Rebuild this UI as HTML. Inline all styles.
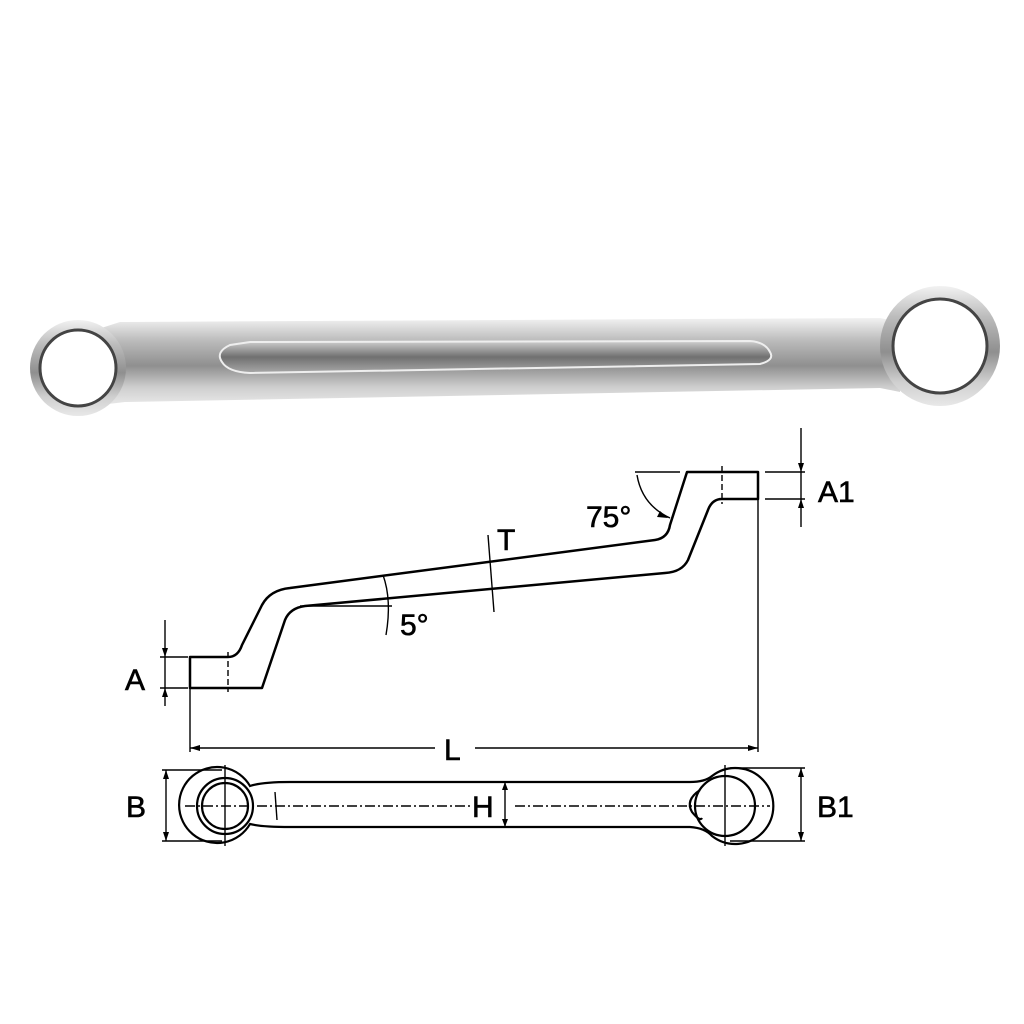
<!DOCTYPE html>
<html><head><meta charset="utf-8"><style>body{margin:0;background:#fff}svg{display:block}</style></head><body>
<svg width="1024" height="1024" viewBox="0 0 1024 1024" xmlns="http://www.w3.org/2000/svg">
<defs>
<linearGradient id="g" x1="0" y1="0" x2="0" y2="1">
<stop offset="0" stop-color="#f2f2f2"/><stop offset="0.25" stop-color="#bdbdbd"/><stop offset="0.55" stop-color="#8f8f8f"/><stop offset="0.8" stop-color="#cfcfcf"/><stop offset="1" stop-color="#e8e8e8"/></linearGradient>
<linearGradient id="p" x1="0" y1="0" x2="0" y2="1">
<stop offset="0" stop-color="#d0d0d0"/><stop offset="0.5" stop-color="#707070"/><stop offset="1" stop-color="#a8a8a8"/></linearGradient>
</defs>
<path d="M95,330 L120,322 L880,318 L900,322 L900,392 L880,388 L125,402 L100,405 Z" fill="url(#g)"/>
<circle cx="78" cy="368" r="48" fill="url(#g)"/>
<circle cx="940" cy="346" r="60" fill="url(#g)"/>
<circle cx="78" cy="368" r="38" fill="#fff" stroke="#444" stroke-width="3"/>
<circle cx="940" cy="346" r="47" fill="#fff" stroke="#444" stroke-width="3"/>
<path d="M230,345 Q215,352 222,362 Q228,372 250,373 L760,364 Q775,360 770,352 Q765,342 750,341 L250,342 Z" fill="url(#p)" stroke="#eee" stroke-width="2"/>
<g fill="none" stroke="#000" stroke-width="2.5" stroke-linejoin="round">
<path d="M190,688 L190,657 L228,657 Q238,657 242,645 L262,605 Q270,590 290,588 L655,540 Q668,538 670,525 L687,472 L758,472 L758,499 L722,499 Q712,499 708,510 L688,560 Q682,572 665,573 L305,606 Q290,608 285,620 L262,688 Z"/>
</g>
<g fill="none" stroke="#000" stroke-width="1.4">
<line x1="228" y1="652" x2="228" y2="692" stroke-dasharray="6,3"/>
<line x1="722" y1="466" x2="722" y2="504" stroke-dasharray="6,3"/>
<line x1="190" y1="688" x2="190" y2="752"/>
<line x1="758" y1="499" x2="758" y2="752"/>
<line x1="160" y1="657" x2="188" y2="657"/><line x1="160" y1="688" x2="188" y2="688"/>
<line x1="165" y1="620" x2="165" y2="706"/>
<line x1="765" y1="472" x2="805" y2="472"/><line x1="765" y1="499" x2="805" y2="499"/>
<line x1="801" y1="428" x2="801" y2="527"/>
<line x1="635" y1="472" x2="680" y2="472"/>
<path d="M637,475 Q642,505 670,518"/>
<line x1="300" y1="606" x2="392" y2="606"/>
<path d="M383,575 Q392,600 386,635"/>
<line x1="488" y1="535" x2="494" y2="612"/>
<line x1="190" y1="748" x2="435" y2="748"/><line x1="475" y1="748" x2="758" y2="748"/>
</g>
<g fill="#000">
<path d="M165,657 l-3,-9 l6,0z M165,688 l-3,9 l6,0z"/>
<path d="M801,472 l-3,-9 l6,0z M801,499 l-3,9 l6,0z"/>
<path d="M190,748 l10,-3 l0,6z M758,748 l-10,-3 l0,6z"/>
<path d="M668,518 l-8,-7 l-3,6z"/>
</g>
<g fill="none" stroke="#000" stroke-width="2.2">
<path d="M250,786 Q262,782 290,782 L690,782 Q705,782 712,776 A38,38 0 1 1 712,836 Q705,828 690,827 L290,827 Q262,827 250,824 A38,38 0 1 1 250,786 Z"/>
<circle cx="225" cy="806" r="28"/><circle cx="225" cy="806" r="23"/>
<circle cx="725" cy="806" r="30"/>
<path d="M700,790 Q685,800 692,812 Q700,822 702,818"/>
</g>
<g fill="none" stroke="#000" stroke-width="1.4">
<line x1="185" y1="806" x2="470" y2="806" stroke-dasharray="10,3,2,3"/>
<line x1="515" y1="806" x2="770" y2="806" stroke-dasharray="10,3,2,3"/>
<line x1="225" y1="765" x2="225" y2="846"/><line x1="725" y1="765" x2="725" y2="846"/>
<line x1="162" y1="770" x2="222" y2="770"/><line x1="162" y1="841" x2="222" y2="841"/>
<line x1="166" y1="770" x2="166" y2="841"/>
<line x1="730" y1="768" x2="805" y2="768"/><line x1="730" y1="841" x2="805" y2="841"/>
<line x1="801" y1="768" x2="801" y2="841"/>
<line x1="505" y1="782" x2="505" y2="827"/>
<line x1="275" y1="792" x2="277" y2="820"/>
</g>
<g fill="#000">
<path d="M166,770 l-3,9 l6,0z M166,841 l-3,-9 l6,0z M801,768 l-3,9 l6,0z M801,841 l-3,-9 l6,0z M505,782 l-3,8 l6,0z M505,827 l-3,-8 l6,0z"/>
</g>
<g font-family="Liberation Sans, sans-serif" font-size="30" fill="#000" stroke="#000" stroke-width="0.6">
<text x="125" y="690">A</text>
<text x="818" y="502">A1</text>
<text x="586" y="527">75°</text>
<text x="497" y="550">T</text>
<text x="400" y="635">5°</text>
<text x="444" y="760">L</text>
<text x="126" y="817">B</text>
<text x="817" y="817">B1</text>
<text x="472" y="817">H</text>
</g>
</svg>
</body></html>
